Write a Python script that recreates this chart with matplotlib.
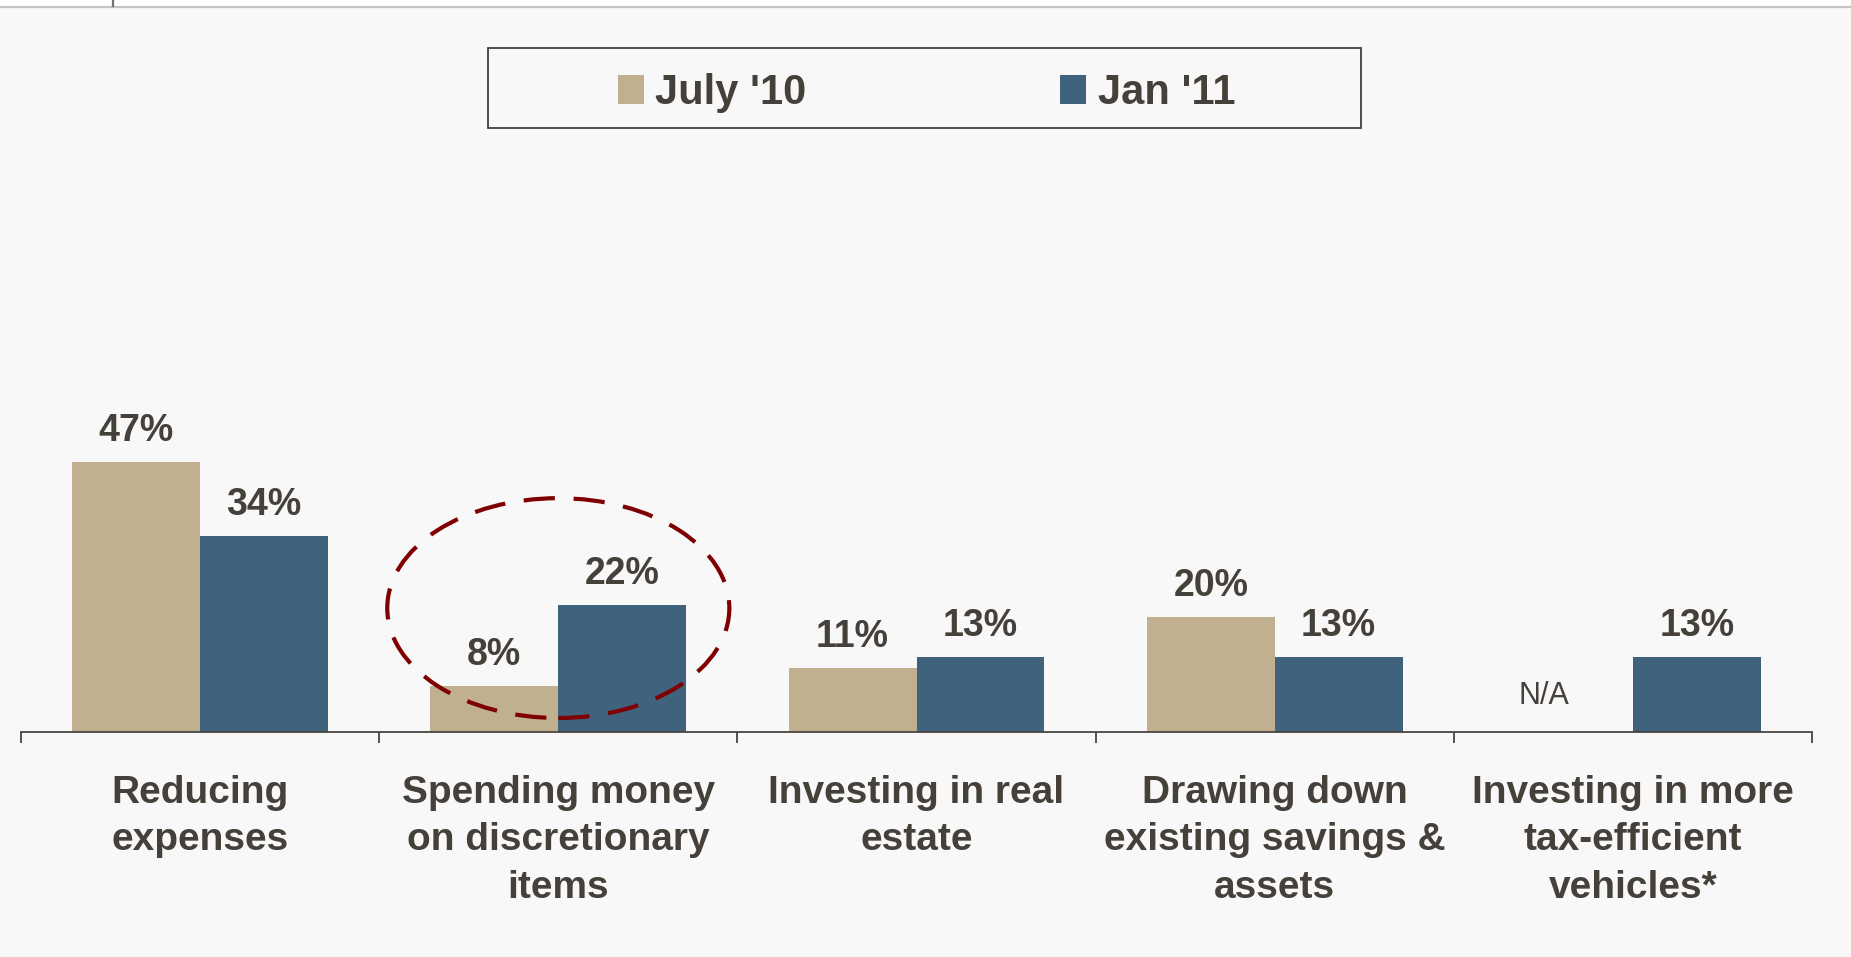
import matplotlib
matplotlib.use("Agg")
import matplotlib.pyplot as plt
from matplotlib.patches import Ellipse, Rectangle, Patch
from matplotlib.lines import Line2D
import numpy as np

# Survey responses (% of respondents)
categories = [
    "Reducing\nexpenses",
    "Spending money\non discretionary\nitems",
    "Investing in real\nestate",
    "Drawing down\nexisting savings &\nassets",
    "Investing in more\ntax-efficient\nvehicles*",
]
july_10 = [47, 8, 11, 20, None]
jan_11 = [34, 22, 13, 13, 13]
series_names = ["July '10", "Jan '11"]

TAN = "#c0b08f"
BLUE = "#40637d"
TEXT = "#46403a"
BG = "#f8f8f8"

W, H = 1851, 957
fig = plt.figure(figsize=(W / 100, H / 100), dpi=100, facecolor=BG)

# thin header strip at the very top
fig.patches.append(Rectangle((0, 1 - 6 / H), 1, 6 / H, transform=fig.transFigure,
                             facecolor="white", edgecolor="none", zorder=0))
fig.lines.append(Line2D([0, 1], [1 - 6.5 / H, 1 - 6.5 / H], transform=fig.transFigure,
                        color="#c4c4c4", lw=1.6))
fig.lines.append(Line2D([113 / W, 113 / W], [1, 1 - 6 / H], transform=fig.transFigure,
                        color="#707070", lw=1.6))

ax_left, ax_right = 21 / W, 1812 / W
ax_bottom_px, ax_top_px = 731.5, 150
ax = fig.add_axes([ax_left, 1 - ax_bottom_px / H, ax_right - ax_left,
                   (ax_bottom_px - ax_top_px) / H])
ax.set_facecolor("none")

px_per_pct = 5.74
ax.set_ylim(0, (ax_bottom_px - ax_top_px) / px_per_pct)
ax.set_xlim(-0.5, len(categories) - 0.5)

x = np.arange(len(categories))
bw = 0.357
july_vals = [np.nan if v is None else v for v in july_10]
b1 = ax.bar(x - bw / 2, july_vals, bw, color=TAN, label=series_names[0], zorder=2)
b2 = ax.bar(x + bw / 2, jan_11, bw, color=BLUE, label=series_names[1], zorder=2)

label_font = dict(family=["Liberation Sans", "DejaVu Sans"], fontsize=27,
                  fontweight="bold", color=TEXT)
for bars, vals in ((b1, july_10), (b2, jan_11)):
    for rect, v in zip(bars, vals):
        xc = rect.get_x() + rect.get_width() / 2
        if v is None:
            ax.annotate("N/A", (xc, 0), xytext=(-18, 20), textcoords="offset points",
                        ha="center", va="baseline", family=["Liberation Sans", "DejaVu Sans"],
                        fontsize=22, color=TEXT)
        else:
            ax.annotate(f"{v}%", (xc, v), xytext=(0, 15.1), textcoords="offset points",
                        ha="center", va="baseline", **label_font)

# highlight around the discretionary spending pair
ax.add_patch(Ellipse((1, 21.5), 0.955, 38.3, fill=False, edgecolor="#7f0000",
                     lw=3.0, linestyle=(0, (7.5, 4.5)), zorder=3, clip_on=False))

for s in ("top", "right", "left"):
    ax.spines[s].set_visible(False)
ax.spines["bottom"].set_color("#4a4540")
ax.spines["bottom"].set_linewidth(1.3)
ax.set_yticks([])

ax.set_xticks(x)
ax.set_xticklabels(categories, family=["Liberation Sans", "DejaVu Sans"], fontsize=28,
                   fontweight="bold", color=TEXT, linespacing=1.42)
ax.tick_params(axis="x", which="major", length=0, pad=31)
ax.set_xticks(np.arange(-0.5, len(categories)), minor=True)
ax.tick_params(axis="x", which="minor", length=8, width=1.3, color="#4a4540")

# legend inside a plain rectangular box
box = (488 / W, 1 - 127.5 / H, 873 / W, 79.5 / H)
fig.patches.append(Rectangle(box[:2], box[2], box[3], transform=fig.transFigure,
                             facecolor="none", edgecolor="#45403a", lw=1.3))
handles = [Patch(facecolor=TAN, edgecolor="none"), Patch(facecolor=BLUE, edgecolor="none")]
leg = fig.legend(handles, series_names, loc="center", ncol=2, frameon=False,
                 bbox_to_anchor=(box[0] + box[2] / 2 + 2 / W, box[1] + box[3] / 2 - 5 / H),
                 prop=dict(family=["Liberation Sans", "DejaVu Sans"],
                           size=30, weight="bold"),
                 handlelength=0.62, handleheight=0.7, handletextpad=0.27,
                 columnspacing=6.1)
for t in leg.get_texts():
    t.set_color(TEXT)

fig.savefig("out.png", dpi=100, facecolor=BG)
